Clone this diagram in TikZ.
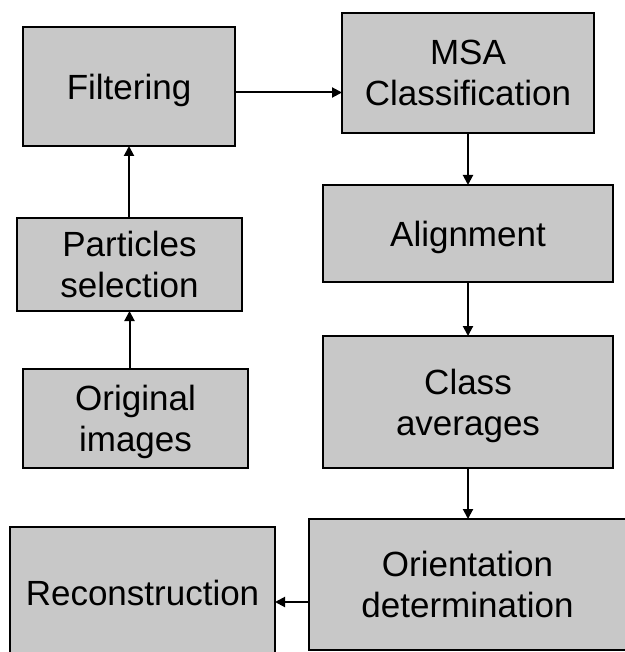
\documentclass[tikz,border=0pt]{standalone}
\usepackage{fontspec}
\setmainfont{Liberation Sans}
\usetikzlibrary{arrows.meta}
\definecolor{boxgray}{RGB}{200,200,200}
\tikzset{
  stepbox/.style={draw=black, fill=boxgray, line width=2pt, inner sep=0pt, outer sep=0pt,
    anchor=north west, align=center, font=\fontsize{35}{41}\selectfont, text depth=0pt},
  arr/.style={line width=2pt, -{Triangle[length=10pt,width=10pt]}}
}
\begin{document}
\begin{tikzpicture}[x=1pt,y=-1pt]
\useasboundingbox (0,0) rectangle (624,652);
\node[stepbox, minimum width=212pt, minimum height=119pt] (filt) at (23,27) {Filtering};
\node[stepbox, minimum width=252pt, minimum height=120pt] (msa) at (342,13) {MSA\\Classification};
\node[stepbox, minimum width=290pt, minimum height=97pt] (align) at (323,185) {Alignment};
\node[stepbox, minimum width=225pt, minimum height=93pt] (part) at (17,218) {Particles\\selection};
\node[stepbox, minimum width=225pt, minimum height=99pt] (orig) at (23,369) {Original\\images};
\node[stepbox, minimum width=290pt, minimum height=132pt] (cls) at (323,336) {Class\\averages};
\node[stepbox, minimum width=317pt, minimum height=131pt] (orient) at (309,519) {Orientation\\determination};
\node[stepbox, minimum width=265pt, minimum height=132pt] (recon) at (10,527) {Reconstruction};
\coordinate (fo) at ([yshift=-6pt]filt.east);
\draw[arr] (fo) -- (msa.west |- fo);
\draw[arr] (part.north -| filt.south) -- (filt.south);
\draw[arr] (orig.north -| part.south) -- (part.south);
\draw[arr] (msa.south) -- (align.north -| msa.south);
\draw[arr] (align.south) -- (cls.north);
\draw[arr] (cls.south) -- (orient.north -| cls.south);
\coordinate (ro) at ([yshift=-9pt]recon.east);
\draw[arr] (orient.west |- ro) -- (ro);
\end{tikzpicture}
\end{document}
